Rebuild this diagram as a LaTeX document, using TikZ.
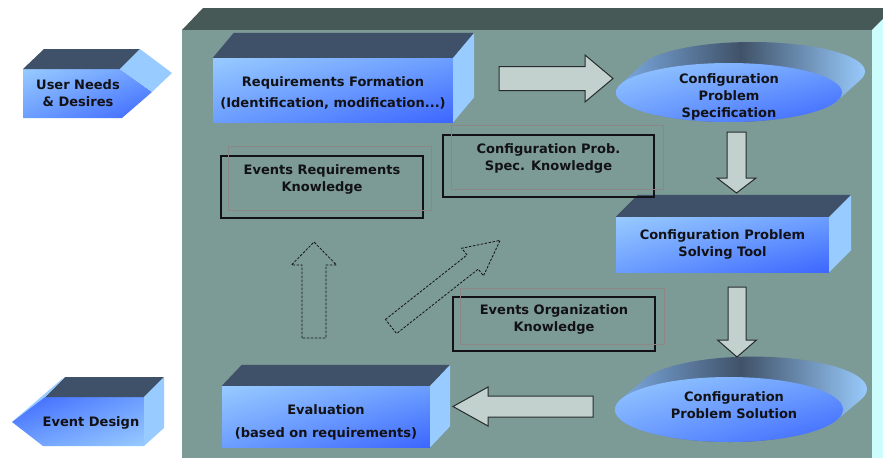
\documentclass[tikz,border=0pt]{standalone}
\usepackage{fontspec}
\setmainfont{DejaVu Sans}
\usetikzlibrary{shapes,shadings,positioning}

\definecolor{bgfront}{RGB}{124,154,150}
\definecolor{bgtop}{RGB}{70,89,86}
\definecolor{bgside}{RGB}{204,252,252}
\definecolor{facetopc}{RGB}{63,81,104}
\definecolor{facesidec}{RGB}{152,203,255}
\definecolor{bluelt}{RGB}{152,202,255}
\definecolor{bluemd}{RGB}{108,158,255}
\definecolor{bluedk}{RGB}{60,102,255}
\definecolor{arrowfill}{RGB}{194,208,206}
\definecolor{arrowline}{RGB}{38,44,44}
\definecolor{shadowgrey}{RGB}{140,134,132}
\definecolor{rimlight}{RGB}{125,172,228}
\definecolor{rimlight2}{RGB}{152,202,252}
\definecolor{rimdark}{RGB}{64,82,104}
\definecolor{inkc}{RGB}{18,18,22}

\tikzset{>=latex}
\tikzset{every node/.style={font=\fontsize{13}{17}\selectfont\bfseries, align=center, text=inkc}}

% top and side faces of a 3d box node
\newcommand\boxfaces[3]{%
  \fill[facetopc] (#1.north west) -- ++(#2,-#3) -- ([shift={(#2,-#3)}]#1.north east) -- (#1.north east) -- cycle;
  \fill[facesidec] (#1.north east) -- ++(#2,-#3) -- ([shift={(#2,-#3)}]#1.south east) -- (#1.south east) -- cycle;}

% block arrow: style, start, angle, length, head length, shaft half, head half
\newcommand\blockarrow[7]{%
  \draw[#1, shift={(#2)}, rotate=#3]
    (0,-#6) -- ({#4-#5},-#6) -- ({#4-#5},-#7) -- (#4,0)
    -- ({#4-#5},#7) -- ({#4-#5},#6) -- (0,#6) -- cycle;}

\begin{document}
\begin{tikzpicture}[x=1pt, y=-1pt,
    bluebox/.style={rectangle, inner sep=0pt, upper left=bluelt, lower right=bluedk,
      upper right=bluemd, lower left=bluemd},
    discnode/.style={ellipse, inner sep=0pt, upper left=bluelt, lower right=bluedk,
      upper right=bluemd, lower left=bluemd},
    rimshade/.style={left color=rimlight, right color=rimlight2, middle color=rimdark},
    bigarrow/.style={fill=arrowfill, draw=arrowline, line width=1pt, line join=miter},
    dasharrow/.style={draw=inkc, line width=0.8pt, dash pattern=on 2.5pt off 1.5pt},
    knowframe/.style={draw=inkc, line width=1.3pt, inner sep=0pt},
    knowshadow/.style={draw=shadowgrey, line width=1pt}]

  \useasboundingbox (0,0) rectangle (883,458);

  % panel
  \fill[bgtop] (182,30) -- (203,8) -- (883,8) -- (883,19) -- (872,30) -- cycle;
  \fill[bgside] (872,30) -- (883,19) -- (883,458) -- (872,458) -- cycle;
  \fill[bgfront] (182,30) rectangle (872,458);

  % outside arrows
  \shade[upper left=bluelt, lower right=bluedk, upper right=bluemd, lower left=bluemd]
    (23,69) -- (120,69) -- (152,92) -- (122,118) -- (23,118) -- cycle;
  \fill[facetopc] (23,69) -- (44,49) -- (140,49) -- (120,69) -- cycle;
  \fill[facesidec] (120,69) -- (140,49) -- (172,73) -- (152,92) -- cycle;
  \node (user) at (78,93) {User Needs\\\& Desires};

  \shade[upper left=bluedk, lower right=bluelt, upper right=bluemd, lower left=bluemd]
    (12,422) -- (43,397) -- (144,397) -- (144,446) -- (43,446) -- cycle;
  \fill[facetopc] (45,397) -- (65,377) -- (164,377) -- (144,397) -- cycle;
  \fill[facesidec] (144,397) -- (164,377) -- (164,428) -- (144,446) -- cycle;
  \fill[facesidec] (12,422) -- (62,379) -- (65,377) -- (45,397) -- cycle;
  \node (design) at (91,423) {Event Design};

  % boxes
  \node[bluebox, minimum width=240pt, minimum height=64pt] (reqf) at (333,90)
    {\rule{0pt}{15.5pt}Requirements Formation\\[4pt](Identification, modification...)};
  \boxfaces{reqf}{21}{25}
  \node[bluebox, minimum width=213pt, minimum height=55pt] (solve) at (722.5,244.5)
    {Configuration Problem\\Solving Tool};
  \boxfaces{solve}{22}{22}
  \node[bluebox, minimum width=208pt, minimum height=61pt] (evalb) at (326,416.5)
    {\rule{0pt}{21.5pt}Evaluation\\[6pt](based on requirements)};
  \boxfaces{evalb}{20}{21}

  % discs
  \coordinate (specc) at (729,92.5);
  \shade[rimshade] \foreach \k in {0,...,23} {([shift={(\k,-0.913*\k)}]specc) ellipse [x radius=113pt, y radius=29.5pt]};
  \node[discnode, minimum width=226pt, minimum height=59pt] (spec) at (specc) {};
  \node (spectext) at ([yshift=-4pt]spec.center) {Configuration\\Problem\\Specification};
  \coordinate (solc) at (729,409.5);
  \shade[rimshade] \foreach \k in {0,...,24} {([shift={(\k,-0.85*\k)}]solc) ellipse [x radius=114pt, y radius=32.5pt]};
  \node[discnode, minimum width=228pt, minimum height=65pt] (sol) at (solc) {};
  \node (soltext) at ([xshift=5pt, yshift=4pt]sol.center) {Configuration\\Problem Solution};

  % knowledge frames
  \node[knowframe, minimum width=202pt, minimum height=62pt] (erk) at (322,187) {};
  \draw[knowshadow] ([shift={(8,-8.5)}]erk.south west) rectangle ([shift={(8,-8.5)}]erk.north east);
  \node (erktext) at ([yshift=7.5pt]erk.center) {Events Requirements\\Knowledge};
  \node[knowframe, minimum width=211pt, minimum height=62pt] (cpsk) at (548.5,166) {};
  \draw[knowshadow] ([shift={(9,-8.5)}]cpsk.south west) rectangle ([shift={(9,-8.5)}]cpsk.north east);
  \node (cpsktext) at ([yshift=7.5pt]cpsk.center) {Configuration Prob.\\Spec. Knowledge};
  \node[knowframe, minimum width=202pt, minimum height=54pt] (eok) at (554,324) {};
  \draw[knowshadow] ([shift={(8.5,-7.5)}]eok.south west) rectangle ([shift={(8.5,-7.5)}]eok.north east);
  \node (eoktext) at ([yshift=4.5pt]eok.center) {Events Organization\\Knowledge};

  % arrows
  \coordinate (a1) at (499,78.5);
  \coordinate (a2) at (736.5,132);
  \coordinate (a3) at (737,287);
  \coordinate (a4) at (593,406.5);
  \coordinate (d1) at (314,338);
  \coordinate (d2) at (391,326.5);
  \blockarrow{bigarrow}{a1}{0}{114}{28}{12}{23.5}
  \blockarrow{bigarrow}{a2}{-90}{61}{15}{9.5}{19.5}
  \blockarrow{bigarrow}{a3}{-90}{70}{17}{9}{19.5}
  \blockarrow{bigarrow}{a4}{180}{140}{35}{10.5}{19.5}
  \blockarrow{dasharrow}{d1}{90}{96}{23}{12}{22.5}
  \blockarrow{dasharrow}{d2}{38.3}{139}{35}{9}{17.6}
\end{tikzpicture}
\end{document}
